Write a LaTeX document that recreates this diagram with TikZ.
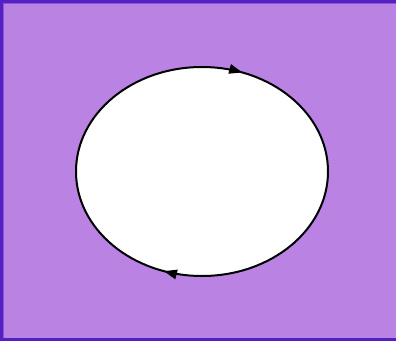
\documentclass[tikz,border=0pt]{standalone}
\usetikzlibrary{decorations.markings,arrows.meta}
\definecolor{bgfill}{HTML}{B982E3}
\definecolor{bgedge}{HTML}{5420C4}
\definecolor{bgedgein}{HTML}{8A55D8}
\begin{document}
\begin{tikzpicture}[x=1pt,y=1pt,
  looptip/.style={},
  loopline/.style={line width=2pt,draw=black,fill=white,
    postaction={decorate},
    decoration={markings,
      mark=at position 0.056 with {\arrow{Triangle[length=13pt,width=10pt,line width=0pt]}},
      mark=at position 0.553 with {\arrow{Triangle[length=13pt,width=10pt,line width=0pt]}}}}]
\useasboundingbox (0,0) rectangle (396,341);
\fill[bgfill] (0,0) rectangle (396,341);
\draw[bgedge,line width=3pt] (1.5,1.5) -- (1.5,339.5) -- (400,339.5);
\draw[bgedge,line width=3pt] (0,1.5) -- (400,1.5);
\draw[bgedgein,line width=1pt] (3.5,3.5) -- (3.5,337.5) -- (400,337.5);
\draw[loopline] (202,274) arc[start angle=90,end angle=-270,x radius=126,y radius=104.5];
\end{tikzpicture}
\end{document}
